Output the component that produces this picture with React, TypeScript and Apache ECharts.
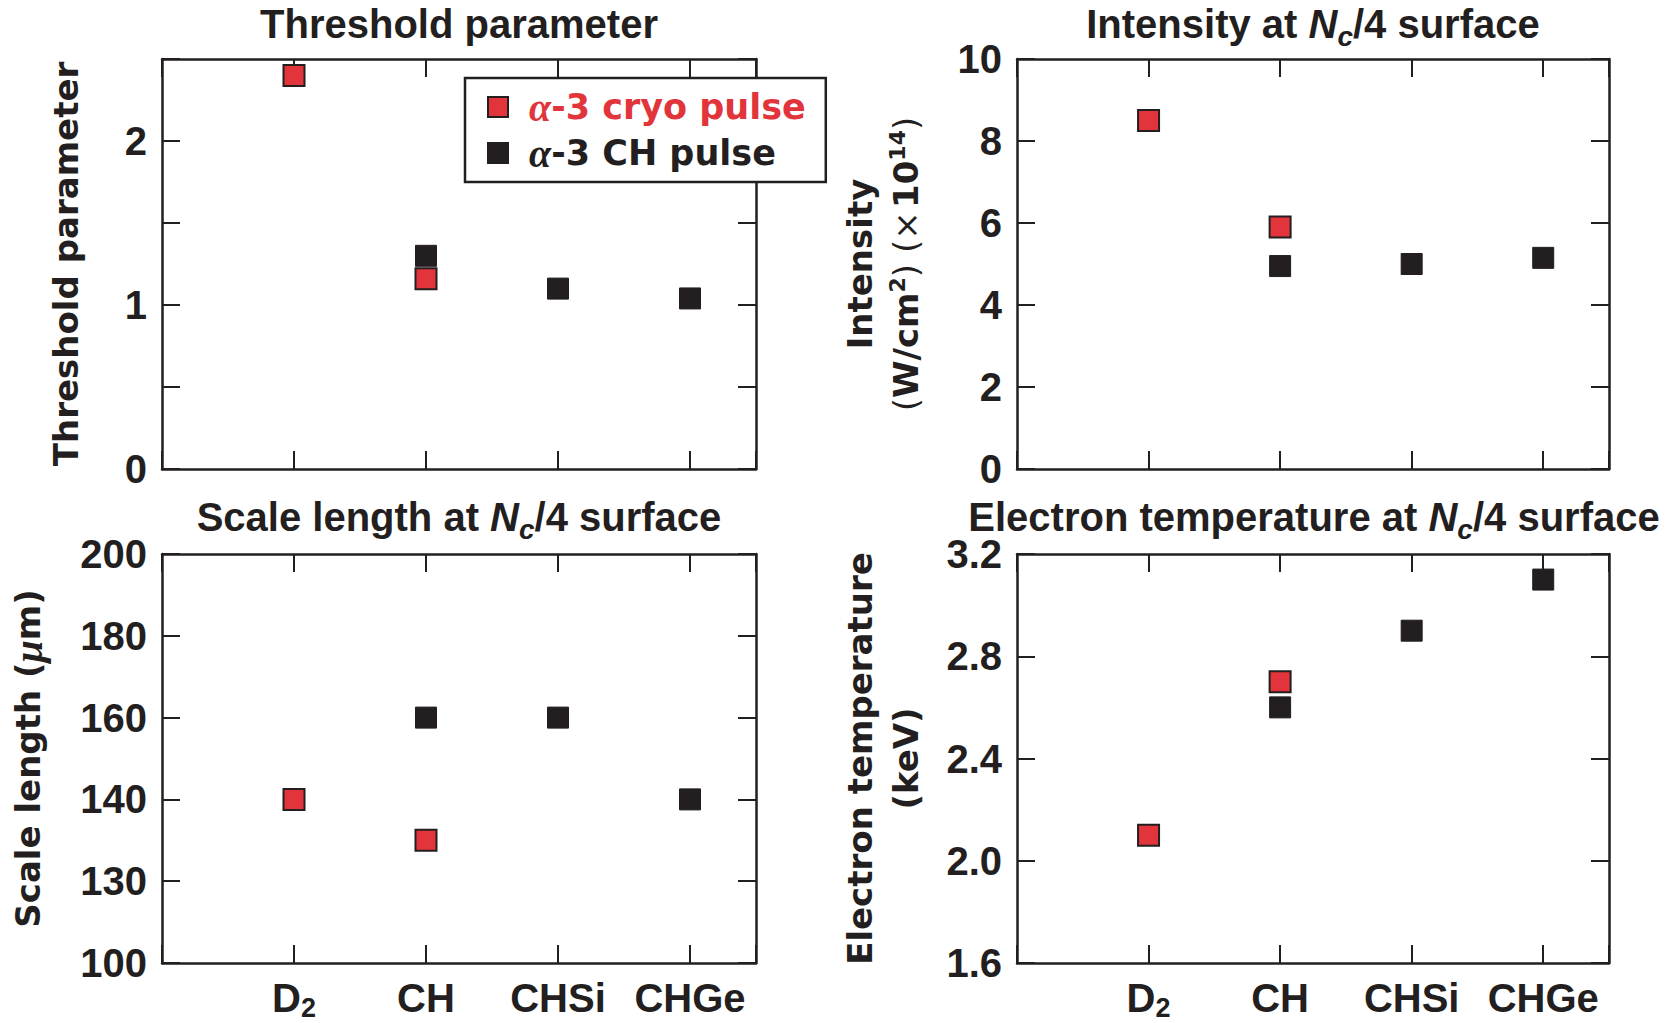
import React, { useEffect, useRef } from 'react';
import * as echarts from 'echarts';

// Target materials, placed at x = 1..4 on each panel
const categories = ['D2', 'CH', 'CHSi', 'CHGe'];
const categoryPositions = [1, 2, 3, 4];

const cryoName = 'α-3 cryo pulse';
const chName = 'α-3 CH pulse';

// Threshold parameter
const thresholdCryo = [2.4, 1.16, null, null];
const thresholdCH = [null, 1.3, 1.1, 1.04];
const thresholdTickLabels = ['0', '', '1', '', '2', ''];

// Intensity at Nc/4 surface (x 1e14 W/cm^2)
const intensityCryo = [8.5, 5.9, null, null];
const intensityCH = [null, 4.95, 5.0, 5.15];
const intensityTickLabels = ['0', '2', '4', '6', '8', '10'];

// Scale length at Nc/4 surface (um)
const scaleLengthCryo = [140, 130, null, null];
const scaleLengthCH = [null, 160, 160, 140];
const scaleLengthTickLabels = ['100', '130', '140', '160', '180', '200'];

// Electron temperature at Nc/4 surface (keV)
const temperatureCryo = [2.1, 2.7, null, null];
const temperatureCH = [null, 2.6, 2.9, 3.1];
const temperatureTickLabels = ['1.6', '2.0', '2.4', '2.8', '3.2'];

const DARK = '#231f20';
const RED = '#e1343b';
const SANS = "'Liberation Sans', Arial, Helvetica, sans-serif";
const WIDE = "'DejaVu Sans', Verdana, sans-serif";
const SERIF = "'Liberation Serif', 'Times New Roman', serif";

const panels = [
  {
    grid: { left: 162, top: 59, width: 594, height: 410 },
    min: 0, max: 2.5, interval: 0.5,
    tickLabels: thresholdTickLabels,
    cryo: thresholdCryo, ch: thresholdCH,
    yName: '{w|Threshold parameter}', nameGap: 73,
    title: '{t|Threshold parameter}', titleX: 459, titleY: 24,
    showCategories: false,
  },
  {
    grid: { left: 1017, top: 59, width: 592, height: 410 },
    min: 0, max: 10, interval: 2,
    tickLabels: intensityTickLabels,
    cryo: intensityCryo, ch: intensityCH,
    yName: '{w|Intensity}\n{p|(}{w|W/cm}{sup|2}{p|) (×} {w|10}{sup|14}{p|)}', nameGap: 88,
    title: '{t|Intensity at }{n|N}{s|c}{t|/4 surface}', titleX: 1313, titleY: 24,
    showCategories: false,
  },
  {
    grid: { left: 162, top: 554, width: 594, height: 409 },
    min: 100, max: 200, interval: 20,
    tickLabels: scaleLengthTickLabels,
    cryo: scaleLengthCryo, ch: scaleLengthCH,
    yName: '{w|Scale length (}{g|μ}{w|m)}', nameGap: 111,
    title: '{t|Scale length at }{n|N}{s|c}{t|/4 surface}', titleX: 459, titleY: 517,
    showCategories: true,
  },
  {
    grid: { left: 1017, top: 554, width: 592, height: 409 },
    min: 1.6, max: 3.2, interval: 0.4,
    tickLabels: temperatureTickLabels,
    cryo: temperatureCryo, ch: temperatureCH,
    yName: '{w|Electron temperature}\n{w|(keV)}', nameGap: 88,
    title: '{t|Electron temperature at }{n|N}{s|c}{t|/4 surface}', titleX: 1314, titleY: 517,
    showCategories: true,
  },
];

const titleRich = {
  t: { fontFamily: SANS, fontWeight: 'bold', fontSize: 40, fill: DARK, lineHeight: 52 },
  n: { fontFamily: SANS, fontWeight: 'bold', fontStyle: 'italic', fontSize: 40, fill: DARK, lineHeight: 52 },
  s: { fontFamily: SANS, fontWeight: 'bold', fontStyle: 'italic', fontSize: 28, fill: DARK, lineHeight: 28, padding: [24, 0, 0, 0] },
};

const yNameRich = {
  w: { fontFamily: WIDE, fontWeight: 'bold', fontSize: 34, color: DARK, lineHeight: 46 },
  p: { fontFamily: WIDE, fontWeight: 'normal', fontSize: 34, color: DARK, lineHeight: 46 },
  g: { fontFamily: SERIF, fontStyle: 'italic', fontWeight: 'bold', fontSize: 40, color: DARK, lineHeight: 46 },
  sup: { fontFamily: WIDE, fontWeight: 'bold', fontSize: 22, color: DARK, lineHeight: 28, padding: [0, 0, 18, 0] },
};

const categoryRich = {
  m: { fontFamily: SANS, fontWeight: 'bold', fontSize: 40, color: DARK, lineHeight: 44 },
  s: { fontFamily: SANS, fontWeight: 'bold', fontSize: 27, color: DARK, lineHeight: 24, padding: [20, 0, 0, 0] },
};

const categoryLabel = (v: number) => {
  const idx = categoryPositions.indexOf(Math.round(v * 1000) / 1000);
  if (idx < 0) return '';
  const c = categories[idx];
  if (c === 'D2') return '{m|D}{s|2}';
  return `{m|${c}}`;
};

const lineStyle = { color: DARK, width: 2.5 };
const tickStyle = { color: DARK, width: 2 };

function buildOption() {
  const xAxis: any[] = [];
  const yAxis: any[] = [];
  const series: any[] = [];
  const graphic: any[] = [];

  panels.forEach((p, i) => {
    ['bottom', 'top'].forEach((pos) => {
      xAxis.push({
        gridIndex: i,
        type: 'value',
        position: pos,
        min: 0,
        max: 4.5,
        interval: 1,
        axisLine: { show: true, onZero: false, lineStyle },
        axisTick: { show: true, inside: true, length: 18, lineStyle: tickStyle },
        axisLabel: {
          show: pos === 'bottom' && p.showCategories,
          formatter: categoryLabel,
          margin: 13,
          rich: categoryRich,
        },
        splitLine: { show: false },
      });
    });
    ['left', 'right'].forEach((pos) => {
      const isLeft = pos === 'left';
      yAxis.push({
        gridIndex: i,
        type: 'value',
        position: pos,
        min: p.min,
        max: p.max,
        interval: p.interval,
        axisLine: { show: true, onZero: false, lineStyle },
        axisTick: { show: true, inside: true, length: 18, lineStyle: tickStyle },
        axisLabel: {
          show: isLeft,
          margin: 15,
          fontFamily: SANS,
          fontWeight: 'bold',
          fontSize: 40,
          color: DARK,
          formatter: (v: number) => p.tickLabels[Math.round((v - p.min) / p.interval)] ?? '',
        },
        splitLine: { show: false },
        name: isLeft ? p.yName : '',
        nameLocation: 'middle',
        nameRotate: 90,
        nameGap: p.nameGap,
        nameTextStyle: { rich: yNameRich, align: 'center' },
      });
    });

    const toPoints = (vals: (number | null)[]) =>
      vals
        .map((v, k) => (v == null ? null : [categoryPositions[k], v]))
        .filter((d) => d !== null);

    series.push({
      type: 'scatter',
      name: cryoName,
      xAxisIndex: 2 * i,
      yAxisIndex: 2 * i,
      data: toPoints(p.cryo),
      symbol: 'rect',
      symbolSize: 21,
      itemStyle: { color: RED, borderColor: DARK, borderWidth: 2, opacity: 1 },
      emphasis: { disabled: true },
      silent: true,
      z: 3,
    });
    series.push({
      type: 'scatter',
      name: chName,
      xAxisIndex: 2 * i,
      yAxisIndex: 2 * i,
      data: toPoints(p.ch),
      symbol: 'rect',
      symbolSize: 21,
      itemStyle: { color: DARK, borderColor: DARK, borderWidth: 1, opacity: 1 },
      emphasis: { disabled: true },
      silent: true,
      z: 3,
    });

    graphic.push({
      type: 'text',
      x: p.titleX,
      y: p.titleY,
      silent: true,
      style: {
        text: p.title,
        rich: titleRich,
        align: 'center',
        verticalAlign: 'middle',
        fill: DARK,
      },
    });
  });

  return {
    animation: false,
    backgroundColor: '#ffffff',
    grid: panels.map((p) => ({ ...p.grid, containLabel: false, outerBoundsMode: 'none' })),
    xAxis,
    yAxis,
    series,
    graphic,
    legend: {
      left: 465,
      top: 78,
      orient: 'vertical',
      icon: 'rect',
      itemWidth: 20,
      itemHeight: 20,
      itemGap: 6,
      padding: [9, 20, 9, 22],
      borderColor: DARK,
      borderWidth: 2.5,
      backgroundColor: '#ffffff',
      selectedMode: false,
      z: 10,
      data: [{ name: cryoName }, { name: chName }],
      formatter: (name: string) =>
        name === cryoName ? `{ar|α}{br|-3 cryo pulse}` : `{ak|α}{bk|-3 CH pulse}`,
      textStyle: {
        rich: {
          ar: { fontFamily: SERIF, fontStyle: 'italic', fontWeight: 'bold', fontSize: 40, color: RED, lineHeight: 38, padding: [0, 0, 0, 16] },
          br: { fontFamily: WIDE, fontWeight: 'bold', fontSize: 35, color: RED, lineHeight: 38 },
          ak: { fontFamily: SERIF, fontStyle: 'italic', fontWeight: 'bold', fontSize: 40, color: DARK, lineHeight: 38, padding: [0, 0, 0, 16] },
          bk: { fontFamily: WIDE, fontWeight: 'bold', fontSize: 35, color: DARK, lineHeight: 38 },
        },
      },
    },
  };
}

export default function App() {
  const ref = useRef<HTMLDivElement>(null);

  useEffect(() => {
    if (!ref.current) return;
    const chart = echarts.init(ref.current, undefined, { renderer: 'svg' });
    chart.setOption(buildOption() as any);
    return () => chart.dispose();
  }, []);

  return (
    <div
      ref={ref}
      style={{ position: 'fixed', left: 0, top: 0, width: 1673, height: 1023, background: '#fff' }}
    />
  );
}
